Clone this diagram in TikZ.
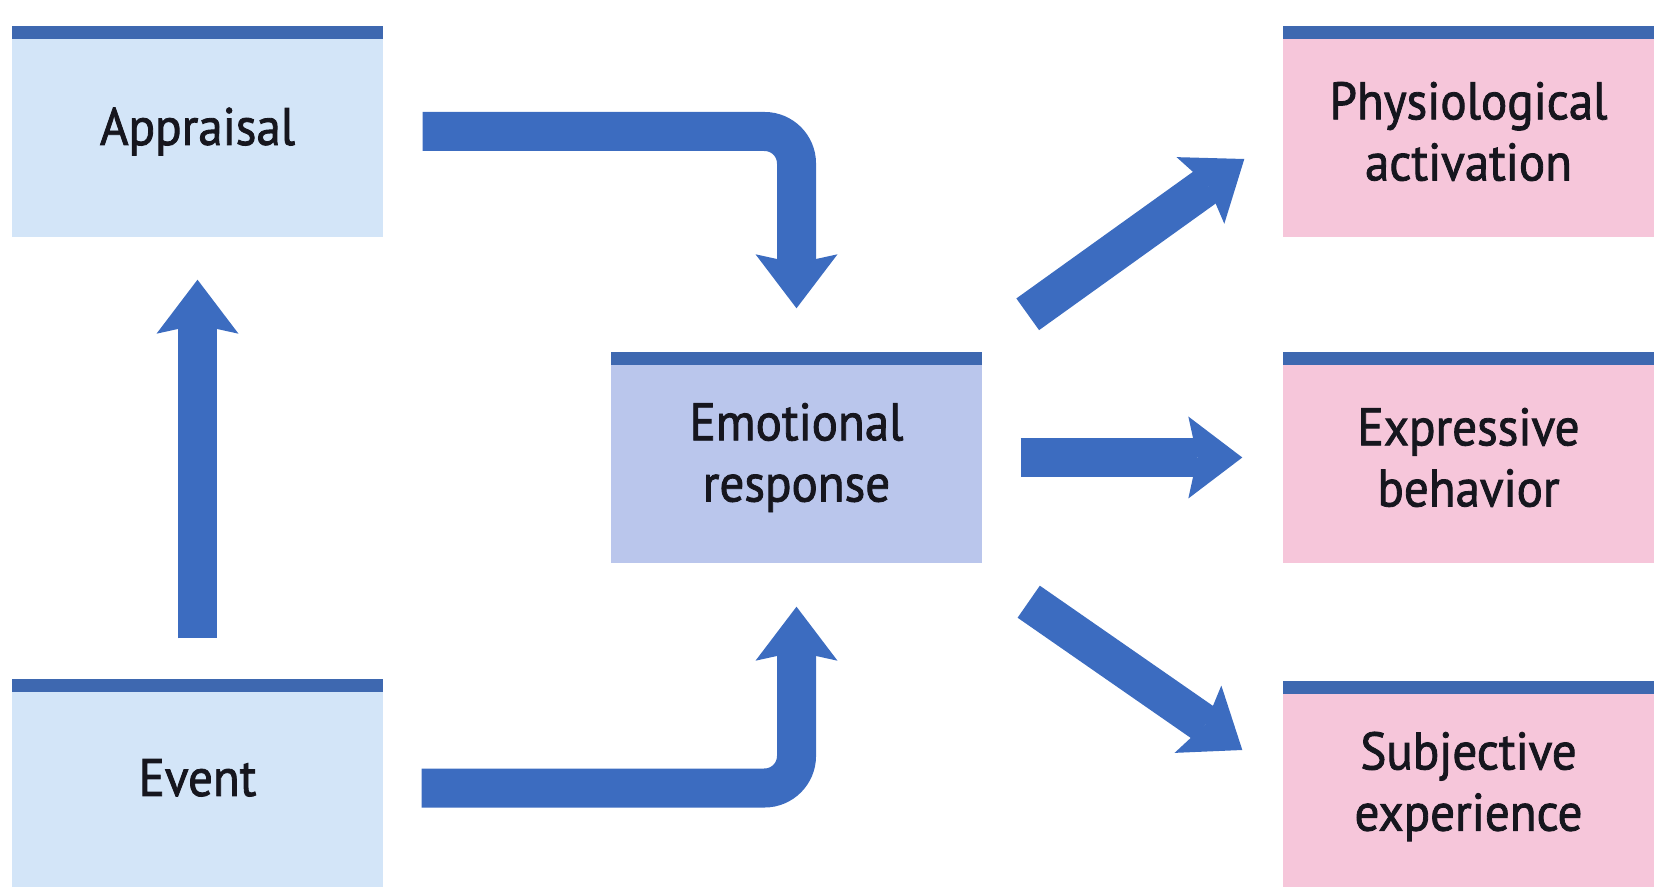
\documentclass[tikz,border=0pt]{standalone}
\usepackage{fontspec}
\setmainfont{PT Sans}[FakeStretch=0.93, FakeBold=1.6]
\usetikzlibrary{arrows.meta}
\definecolor{barblue}{RGB}{62,104,176}
\definecolor{arrowblue}{RGB}{60,108,192}
\definecolor{inblue}{RGB}{211,229,248}
\definecolor{emoblue}{RGB}{186,198,236}
\definecolor{outpink}{RGB}{246,198,218}
\definecolor{inktext}{RGB}{22,22,30}
\tikzset{
  box/.style={minimum width=3.71cm, minimum height=2.11cm, inner sep=0pt,
    align=center, text=inktext, font=\fontsize{15}{17.4}\selectfont,
    path picture={\fill[barblue] (path picture bounding box.north west)
      rectangle ([yshift=-0.13cm]path picture bounding box.north east);}},
  inbox/.style={box, fill=inblue},
  emobox/.style={box, fill=emoblue},
  outbox/.style={box, fill=outpink},
  flow/.style={draw=arrowblue, line width=0.39cm,
    -{Stealth[length=0.54cm, width=0.82cm, inset=0.09cm, line width=0pt]}}
}
\begin{document}
\begin{tikzpicture}
\useasboundingbox (0,0) rectangle (16.69,8.86);
\node[inbox] (appraisal) at (1.975,7.545) {Appraisal};
\node[inbox, text depth=0.14cm] (event) at (1.975,1.015) {Event};
\node[emobox] (emotion) at (7.965,4.285) {Emotional\\response};
\node[outbox] (physio) at (14.685,7.545) {Physiological\\activation};
\node[outbox] (express) at (14.685,4.285) {Expressive\\behavior};
\node[outbox] (subject) at (14.685,0.995) {Subjective\\experience};
\draw[flow] [shorten <=0.4cm, shorten >=0.42cm] (event.north) -- (appraisal.south);
\draw[flow] [rounded corners=0.32cm, shorten <=0.39cm, shorten >=0.43cm] (appraisal.east) -| (emotion.north);
\draw[flow] [rounded corners=0.32cm, shorten <=0.38cm, shorten >=0.43cm] ([yshift=-0.035cm]event.east) -| (emotion.south);
\draw[flow] ([xshift=0.45cm,yshift=0.37cm]emotion.north east) -- ([xshift=-0.38cm,yshift=-0.275cm]physio.west);
\draw[flow] [shorten <=0.38cm, shorten >=0.4cm] (emotion.east) -- (express.west);
\draw[flow] ([xshift=0.46cm,yshift=-0.38cm]emotion.south east) -- ([xshift=-0.4cm,yshift=0.365cm]subject.west);
\end{tikzpicture}
\end{document}
